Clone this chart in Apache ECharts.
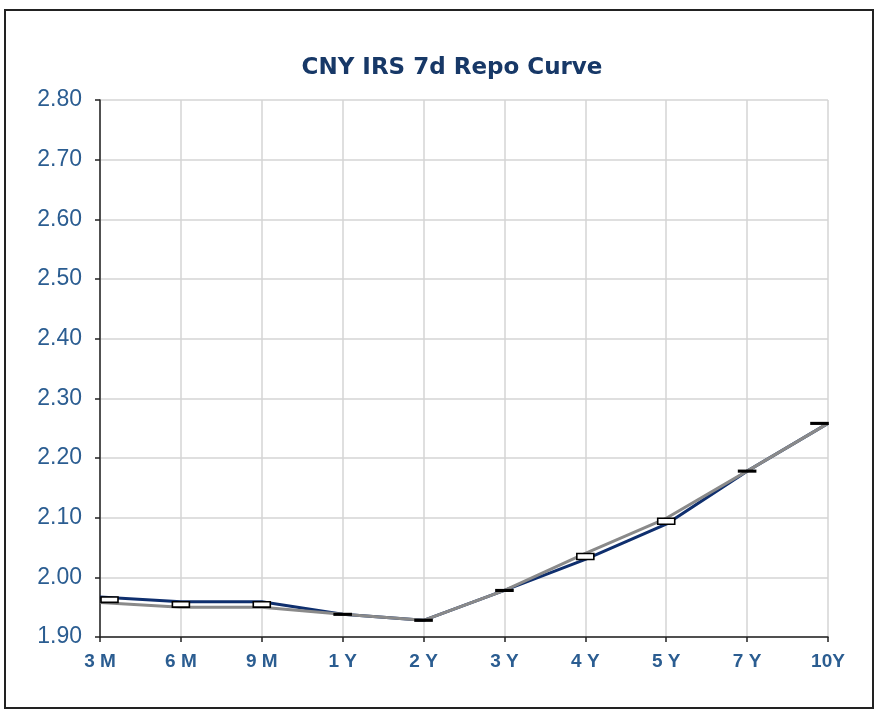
<!DOCTYPE html>
<html><head><meta charset="utf-8">
<script src="https://cdn.jsdelivr.net/npm/echarts@6/dist/echarts.min.js"></script>
<style>
html,body{margin:0;padding:0;background:#fff;}
#frame{position:absolute;left:4px;top:9px;width:870px;height:700px;border:2px solid #222;box-sizing:border-box;}
#c{position:absolute;left:0;top:0;width:879px;height:715px;}
</style></head>
<body>
<div id="frame"></div>
<div id="c"></div>
<script>
const categories = ['3 M','6 M','9 M','1 Y','2 Y','3 Y','4 Y','5 Y','7 Y','10Y'];
const seriesBlue = [1.967, 1.959, 1.959, 1.938, 1.928, 1.978, 2.030, 2.089, 2.178, 2.258];
const seriesGray = [1.958, 1.950, 1.950, 1.938, 1.928, 1.978, 2.040, 2.099, 2.178, 2.258];
const yTicks = {min: 1.9, max: 2.8, interval: 0.1};

// up/down bars between the two series
const bars = categories.map((c, i) => [i, Math.min(seriesBlue[i], seriesGray[i]), Math.max(seriesBlue[i], seriesGray[i])]);

const chart = echarts.init(document.getElementById('c'));
chart.setOption({
  animation: false,
  title: {
    text: 'CNY IRS 7d Repo Curve', left: 447, top: 52, textAlign: 'center',
    textStyle: {fontFamily: 'DejaVu Sans', fontWeight: 'bold', fontSize: 23, color: '#173867'}
  },
  grid: {left: 100, right: 51, top: 100, bottom: 78},
  xAxis: {
    type: 'category', data: categories, boundaryGap: false,
    axisLine: {lineStyle: {color: '#222', width: 1.5}},
    axisTick: {show: true, length: 5, lineStyle: {color: '#222', width: 1.5}},
    axisLabel: {color: '#2b5d91', fontFamily: 'Liberation Sans', fontWeight: 'bold', fontSize: 19, margin: 15},
    splitLine: {show: true, lineStyle: {color: '#d4d4d4', width: 1.5}}
  },
  yAxis: {
    type: 'value', min: yTicks.min, max: yTicks.max, interval: yTicks.interval,
    axisLine: {show: true, lineStyle: {color: '#222', width: 1.5}},
    axisTick: {show: true, inside: false, length: 5, lineStyle: {color: '#222', width: 1.5}},
    axisLabel: {color: '#2b5d91', fontFamily: 'Liberation Sans', fontSize: 23, margin: 18,
      formatter: v => v.toFixed(2)},
    splitLine: {show: true, lineStyle: {color: '#d4d4d4', width: 1.5}}
  },
  series: [
    {type: 'line', data: seriesBlue, symbol: 'none', lineStyle: {color: '#0f2f6e', width: 3}, z: 2},
    {type: 'line', data: seriesGray, symbol: 'none', lineStyle: {color: '#8a8a8a', width: 3}, z: 3},
    {type: 'custom', data: bars, z: 4,
      renderItem: function (params, api) {
        const i = api.value(0);
        const lo = api.coord([i, api.value(1)]);
        const hi = api.coord([i, api.value(2)]);
        const w = 17;
        const cs = params.coordSys;
        let x = lo[0] - w / 2;
        x = Math.max(cs.x + 1, Math.min(x, cs.x + cs.width - w));
        const h = Math.max(lo[1] - hi[1], 1.5);
        const y = (lo[1] + hi[1]) / 2 - h / 2;
        return {type: 'rect', shape: {x: x, y: y, width: w, height: h},
          style: {fill: '#fff', stroke: '#000', lineWidth: 1.6}};
      }}
  ]
});
</script>
</body></html>
